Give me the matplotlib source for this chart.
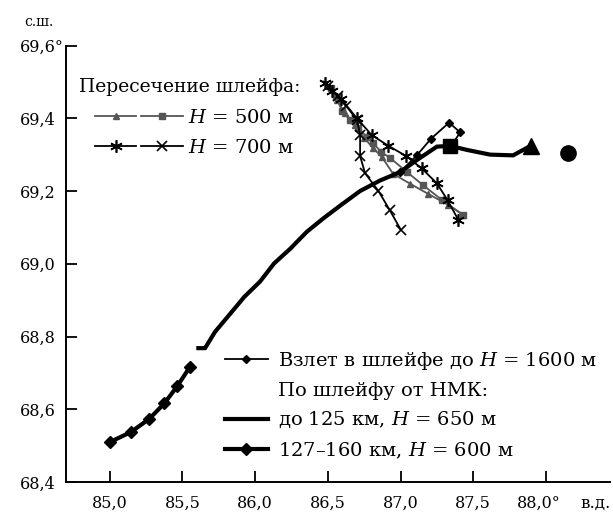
import matplotlib
matplotlib.use("Agg")
import matplotlib.pyplot as plt
from matplotlib.lines import Line2D
from matplotlib.legend_handler import HandlerTuple

plt.rcParams['font.family'] = ['DejaVu Serif']
plt.rcParams['mathtext.fontset'] = 'custom'
plt.rcParams['mathtext.rm'] = 'DejaVu Serif'
plt.rcParams['mathtext.it'] = 'DejaVu Serif:italic'

# ---- data (lon, lat) ----
main_lon = [85.610, 85.656, 85.725, 85.828, 85.926, 86.034, 86.131, 86.241, 86.356,
            86.470, 86.596, 86.722, 86.860, 86.997, 87.112, 87.250, 87.341, 87.456,
            87.616, 87.774, 87.898]
main_lat = [68.768, 68.768, 68.813, 68.862, 68.909, 68.951, 69.001, 69.041, 69.088,
            69.125, 69.163, 69.200, 69.229, 69.252, 69.285, 69.322, 69.324, 69.313,
            69.300, 69.298, 69.325]

far_lon = [85.003, 85.145, 85.271, 85.376, 85.466, 85.553]
far_lat = [68.510, 68.537, 68.573, 68.616, 68.664, 68.717]

takeoff_lon = [86.997, 87.112, 87.210, 87.334, 87.410, 87.348]
takeoff_lat = [69.252, 69.298, 69.344, 69.388, 69.361, 69.324]

h500_tri_lon = [86.509, 86.564, 86.619, 86.688, 86.750, 86.811, 86.873, 86.949,
                87.066, 87.190, 87.327, 87.431]
h500_tri_lat = [69.489, 69.450, 69.414, 69.381, 69.346, 69.318, 69.293, 69.247,
                69.220, 69.192, 69.162, 69.134]

h500_sq_lon = [86.523, 86.557, 86.598, 86.653, 86.708, 86.770, 86.811, 86.867,
               86.928, 87.045, 87.155, 87.286, 87.431]
h500_sq_lat = [69.483, 69.458, 69.420, 69.395, 69.373, 69.348, 69.332, 69.307,
               69.291, 69.252, 69.216, 69.175, 69.134]

h700_ast_lon = [86.481, 86.526, 86.591, 86.698, 86.801, 86.917, 87.039, 87.146,
                87.250, 87.323, 87.398]
h700_ast_lat = [69.498, 69.476, 69.453, 69.401, 69.354, 69.324, 69.296, 69.262,
                69.221, 69.175, 69.120]

h700_x_lon = [86.502, 86.571, 86.626, 86.701, 86.722, 86.722, 86.756, 86.848,
              86.925, 87.001]
h700_x_lat = [69.489, 69.461, 69.434, 69.395, 69.354, 69.296, 69.249, 69.200,
              69.148, 69.094]

sq_point = (87.341, 69.324)
tri_point = (87.898, 69.325)
nmk_point = (88.153, 69.304)

xticks = [85.0, 85.5, 86.0, 86.5, 87.0, 87.5, 88.0]
xticklabels = ["85,0", "85,5", "86,0", "86,5", "87,0", "87,5", ""]
last_xlabel = "88,0°"
yticks = [68.4, 68.6, 68.8, 69.0, 69.2, 69.4, 69.6]
yticklabels = ["68,4", "68,6", "68,8", "69,0", "69,2", "69,4", "69,6°"]

GRAY = '#555555'

W, H = 613, 519
fig = plt.figure(figsize=(W / 100, H / 100), dpi=100)
ax = fig.add_axes([65.7 / W, 1 - 482 / H, (610 - 65.7) / W, (482 - 45.5) / H])

# gray H=500 lines
ax.plot(h500_tri_lon, h500_tri_lat, color=GRAY, lw=1.3, marker='^', ms=5)
ax.plot(h500_sq_lon, h500_sq_lat, color=GRAY, lw=1.3, marker='s', ms=4.5)
# H=700 lines
ax.plot(h700_ast_lon, h700_ast_lat, color='black', lw=1.3, marker=(6, 2, 0),
        ms=9, mew=1.2)
ax.plot(h700_x_lon, h700_x_lat, color='black', lw=1.3, marker='x', ms=7, mew=1.2)
# main route
ax.plot(main_lon, main_lat, color='black', lw=3.0, solid_joinstyle='miter')
ax.plot(far_lon, far_lat, color='black', lw=3.0, marker='D', ms=6)
ax.plot(takeoff_lon, takeoff_lat, color='black', lw=1.3, marker='D', ms=4.5)
ax.plot([sq_point[0]], [sq_point[1]], color='black', marker='s', ms=10, ls='none')
ax.plot([tri_point[0]], [tri_point[1]], color='black', marker='^', ms=11, ls='none')
ax.plot([nmk_point[0]], [nmk_point[1]], color='black', marker='o', ms=11, ls='none')

ax.set_xlim(84.698, 88.44)
ax.set_ylim(68.4, 69.6)
for s in ['top', 'right']:
    ax.spines[s].set_visible(False)
for s in ['left', 'bottom']:
    ax.spines[s].set_linewidth(1.4)
ax.set_xticks(xticks)
ax.set_xticklabels(xticklabels, fontsize=11.5)
ax.set_yticks(yticks)
ax.set_yticklabels(yticklabels, fontsize=11.5)
ax.tick_params(direction='in', length=8, width=1.3)
ax.tick_params(axis='x', pad=9)
ax.tick_params(axis='y', pad=33)
for lab in ax.get_yticklabels():
    lab.set_ha('left')

xt = ax.get_xaxis_transform()
ax.annotate(last_xlabel, xy=(xticks[-1], 0), xycoords=xt, xytext=(-20.7, -15.5),
            textcoords='offset points', fontsize=11.5, ha='left', va='center',
            annotation_clip=False)
ax.annotate("в.д.", xy=(xticks[-1], 0), xycoords=xt, xytext=(24.5, -15.5),
            textcoords='offset points', fontsize=12, ha='left', va='center',
            annotation_clip=False)
fig.text(39 / W, 1 - 22 / H, "с.ш.", fontsize=10, ha='center', va='center')

FS = 14
# legend 1
fig.text(79 / W, 1 - 87 / H, "Пересечение шлейфа:", fontsize=13.5, ha='left', va='center')
h1 = (Line2D([], [], color=GRAY, lw=1.3, marker='^', ms=5),
      Line2D([], [], color=GRAY, lw=1.3, marker='s', ms=4.5))
h2 = (Line2D([], [], color='black', lw=1.3, marker=(6, 2, 0), ms=9, mew=1.2),
      Line2D([], [], color='black', lw=1.3, marker='x', ms=7, mew=1.2))
leg1 = ax.legend([h1, h2], ["$H$ = 500 м", "$H$ = 700 м"],
                 handler_map={tuple: HandlerTuple(ndivide=None, pad=0.25)},
                 loc='upper left', bbox_to_anchor=(95 / W, 1 - 109 / H),
                 bbox_transform=fig.transFigure, frameon=False, fontsize=FS,
                 numpoints=1, handlelength=4.5, handletextpad=0.27,
                 borderpad=0, borderaxespad=0, labelspacing=0.62)
ax.add_artist(leg1)

# legend 2
hh = [Line2D([], [], color='black', lw=1.3, marker='D', ms=4.5),
      Line2D([], [], ls='none'),
      Line2D([], [], color='black', lw=3.0),
      Line2D([], [], color='black', lw=3.0, marker='D', ms=6)]
labs = ["Взлет в шлейфе до $H$ = 1600 м", "По шлейфу от НМК:",
        "до 125 км, $H$ = 650 м", "127–160 км, $H$ = 600 м"]
leg2 = ax.legend(hh, labs, loc='upper left', bbox_to_anchor=(225 / W, 1 - 350 / H),
                 bbox_transform=fig.transFigure, frameon=False, fontsize=FS,
                 numpoints=1, handlelength=2.2, handletextpad=0.52,
                 borderpad=0, borderaxespad=0, labelspacing=0.52)

fig.savefig("out.png", dpi=100)
